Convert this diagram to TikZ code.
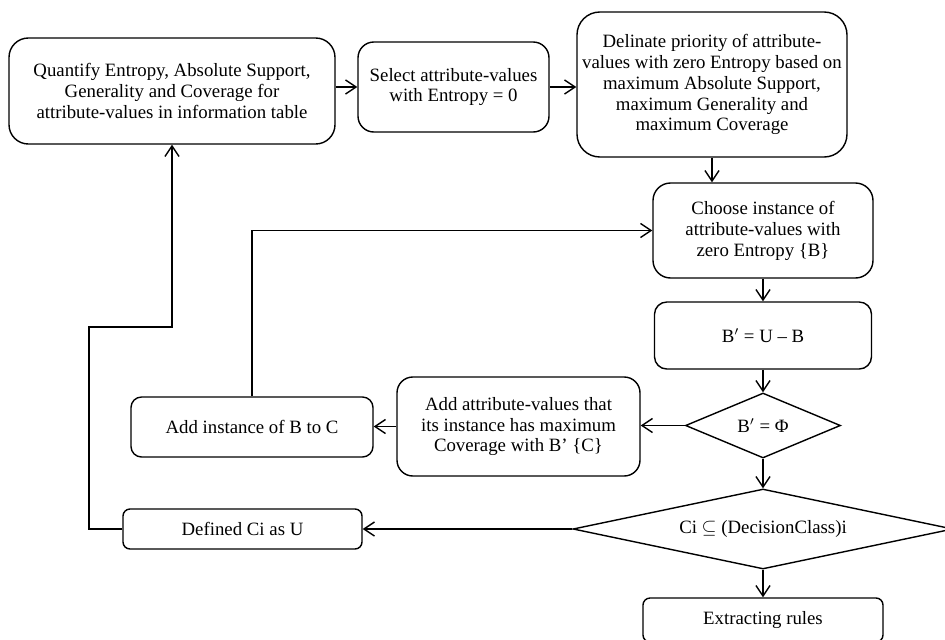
\documentclass[tikz,border=0pt]{standalone}
\usepackage{fontspec}
\setmainfont{Liberation Serif}
\usepackage{amsmath,amssymb}
\usetikzlibrary{shapes.geometric,arrows.meta,positioning,calc}
\tikzset{
  stepbox/.style={rectangle, rounded corners=8pt, draw=black, fill=white,
                  line width=0.8pt, align=center, inner sep=2pt},
  decision/.style={diamond, draw=black, fill=white, line width=0.8pt,
                   inner sep=0pt, align=center},
  arrow/.style={-{Straight Barb[length=6pt,width=8pt]}, line width=0.8pt, draw=black}
}

\begin{document}
\begin{tikzpicture}[scale=1.0, every node/.style={font=\fontsize{10.7}{11.9}\selectfont}]
\useasboundingbox (0,0) rectangle (18.9,-12.78);
% main nodes
\node[stepbox, rounded corners=11pt, minimum width=6.52cm, minimum height=2.12cm] (quant) at (3.44,-1.82)
  {Quantify Entropy, Absolute Support,\\Generality and Coverage for\\attribute-values in information table};
\node[stepbox, rounded corners=9pt, minimum width=3.82cm, minimum height=1.80cm] (sel) at (9.07,-1.74)
  {Select attribute-values\\with Entropy = 0};
\node[stepbox, rounded corners=13pt, minimum width=5.40cm, minimum height=2.90cm] (delin) at (14.24,-1.69)
  {Delinate priority of attribute-\\values with zero Entropy based on\\maximum Absolute Support,\\maximum Generality and\\maximum Coverage};
\node[stepbox, rounded corners=10pt, minimum width=4.40cm, minimum height=1.90cm] (choose) at (15.26,-4.61)
  {Choose instance of\\attribute-values with\\zero Entropy \{B\}};
\node[stepbox, rounded corners=7pt, minimum width=4.34cm, minimum height=1.34cm] (bdiff) at (15.26,-6.71)
  {B$'$ = U -- B};
\node[decision, aspect=2.4, minimum width=3.10cm, minimum height=1.30cm] (empty) at (15.26,-8.51)
  {B$'$ = Φ};
\node[stepbox, rounded corners=9pt, minimum width=4.86cm, minimum height=1.98cm] (addattr) at (10.37,-8.53)
  {Add attribute-values that\\its instance has maximum\\Coverage with B' \{C\}};
\node[stepbox, rounded corners=6pt, minimum width=4.84cm, minimum height=1.20cm] (addinst) at (5.04,-8.54)
  {Add instance of B to C};
\node[decision, aspect=4.75, minimum width=7.60cm, minimum height=1.60cm] (subset) at (15.26,-10.58)
  {Ci $\subseteq$ (DecisionClass)i};
\node[stepbox, rounded corners=4pt, minimum width=4.78cm, minimum height=0.80cm] (defci) at (4.85,-10.58)
  {Defined Ci as U};
\node[stepbox, rounded corners=4pt, minimum width=4.80cm, minimum height=0.88cm] (rules) at (15.26,-12.40)
  {Extracting rules};
\coordinate (back) at (1.78,-6.54);
% connectors
\draw[arrow] (quant.east |- sel) -- (sel.west);
\draw[arrow] (sel.east) -- (sel.east -| delin.west);
\draw[arrow] (delin.south) -- (delin.south |- choose.north);
\draw[arrow] (choose) -- (bdiff);
\draw[arrow] (bdiff) -- (empty);
\draw[arrow] (empty.west) -- (empty.west -| addattr.east);
\draw[arrow] (addattr.west) -- (addattr.west -| addinst.east);
\draw[arrow] (addinst.north) |- (choose.west);
\draw[arrow] (empty) -- (subset);
\draw[arrow] (subset) -- (defci);
\draw[arrow] (subset) -- (rules);
\draw[arrow] (defci.west) -| (back) -| (quant.south);
\end{tikzpicture}
\end{document}
